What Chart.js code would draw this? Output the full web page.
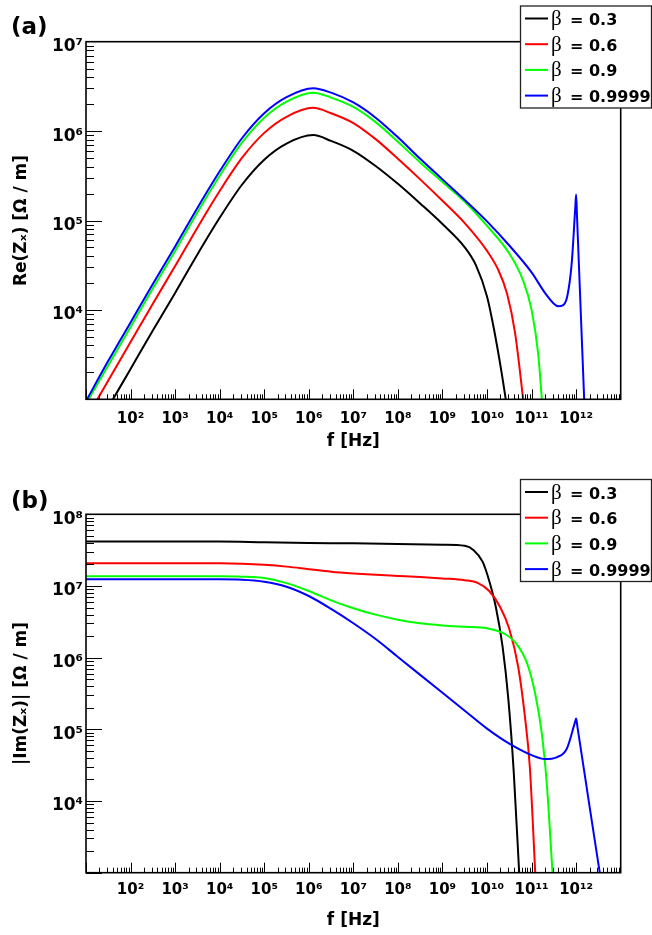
<!DOCTYPE html>
<html>
<head>
<meta charset="utf-8">
<script src="https://cdn.jsdelivr.net/npm/chart.js@4.4.0/dist/chart.umd.min.js"></script>
<style>
  html, body { margin: 0; padding: 0; background: #fff; }
  canvas { display: block; }
</style>
</head>
<body>
<canvas id="reChart" width="652" height="467"></canvas>
<canvas id="imChart" width="652" height="468"></canvas>
<script>
// legend entries, one per curve
const betaLabels = ['β = 0.3', 'β = 0.6', 'β = 0.9', 'β = 0.9999'];

// tick labels (powers of ten that carry a label)
const xTickExps = [2, 3, 4, 5, 6, 7, 8, 9, 10, 11, 12];
const reTickExps = [4, 5, 6, 7];
const imTickExps = [4, 5, 6, 7, 8];

// (a) Re(Zx) -- log10(f / Hz) and log10(Re Zx / (Ohm/m))
const reLogF_03 = [1, 1.5, 2, 2.5, 3, 3.5, 4, 4.5, 5, 5.5, 6.1, 6.5, 7, 7.5, 8, 8.5, 9, 9.5, 9.75, 10, 10.15, 10.33, 10.45];
const reLogZ_03 = [2.48, 2.91, 3.34, 3.77, 4.19, 4.62, 5.03, 5.40, 5.68, 5.86, 5.955, 5.89, 5.78, 5.61, 5.41, 5.19, 4.96, 4.70, 4.50, 4.15, 3.80, 3.29, 2.90];
const reLogF_06 = [1, 1.5, 2, 2.5, 3, 3.5, 4, 4.5, 5, 5.5, 6.1, 6.5, 7, 7.5, 8, 8.5, 9, 9.5, 10, 10.25, 10.45, 10.63, 10.83];
const reLogZ_06 = [2.78, 3.21, 3.64, 4.07, 4.49, 4.92, 5.33, 5.70, 5.98, 6.16, 6.26, 6.20, 6.09, 5.91, 5.69, 5.46, 5.22, 4.97, 4.66, 4.45, 4.18, 3.74, 2.92];
const reLogF_09 = [1, 1.5, 2, 2.5, 3, 3.5, 4, 4.5, 5, 5.5, 6.1, 6.5, 7, 7.5, 8, 8.5, 9, 9.5, 10, 10.5, 10.8, 11.0, 11.15, 11.25];
const reLogZ_09 = [2.95, 3.38, 3.81, 4.24, 4.66, 5.09, 5.50, 5.87, 6.15, 6.33, 6.43, 6.375, 6.27, 6.10, 5.88, 5.65, 5.43, 5.21, 4.94, 4.63, 4.34, 4.0, 3.5, 2.87];
const reLogF_9999 = [1, 1.5, 2, 2.5, 3, 3.5, 4, 4.5, 5, 5.5, 6.1, 6.5, 7, 7.5, 8, 8.5, 9, 9.5, 10, 10.5, 11, 11.3, 11.5, 11.6, 11.7, 11.8, 11.9, 11.98, 12.0, 12.02, 12.2];
const reLogZ_9999 = [2.98, 3.43, 3.86, 4.29, 4.71, 5.14, 5.55, 5.92, 6.2, 6.38, 6.48, 6.43, 6.32, 6.15, 5.93, 5.69, 5.46, 5.23, 4.99, 4.72, 4.42, 4.19, 4.07, 4.04, 4.05, 4.15, 4.52, 5.14, 5.29, 5.04, 2.75];

// (b) |Im(Zx)| -- same units
const imLogF_03 = [1, 2, 3, 4, 5, 6, 7, 8, 9, 9.5, 9.7, 9.9, 10.05, 10.2, 10.35, 10.48, 10.6, 10.73];
const imLogZ_03 = [7.62, 7.62, 7.62, 7.62, 7.61, 7.60, 7.595, 7.585, 7.575, 7.56, 7.50, 7.34, 7.07, 6.70, 6.15, 5.41, 4.40, 2.9];
const imLogF_06 = [1, 2, 3, 4, 4.5, 5, 5.5, 6, 6.5, 7, 7.5, 8, 8.5, 9, 9.5, 9.8, 10.05, 10.3, 10.5, 10.7, 10.85, 10.96, 11.09];
const imLogZ_06 = [7.316, 7.316, 7.316, 7.316, 7.31, 7.295, 7.27, 7.235, 7.20, 7.175, 7.155, 7.14, 7.125, 7.105, 7.08, 7.04, 6.93, 6.70, 6.40, 5.87, 5.18, 4.48, 2.9];
const imLogF_09 = [1, 2, 3, 4, 4.5, 5, 5.5, 6, 6.5, 7, 7.5, 8, 8.5, 9, 9.5, 10, 10.4, 10.65, 10.9, 11.08, 11.23, 11.34, 11.48];
const imLogZ_09 = [7.135, 7.135, 7.135, 7.135, 7.13, 7.11, 7.04, 6.93, 6.80, 6.69, 6.60, 6.53, 6.48, 6.45, 6.43, 6.41, 6.33, 6.2, 5.92, 5.5, 4.94, 4.25, 2.9];
const imLogF_9999 = [1, 2, 3, 4, 4.5, 5, 5.5, 6, 6.5, 7, 7.5, 8, 8.5, 9, 9.5, 10, 10.5, 11, 11.3, 11.56, 11.79, 11.97, 12.0, 12.03, 12.3, 12.55];
const imLogZ_9999 = [7.093, 7.093, 7.093, 7.093, 7.088, 7.06, 6.99, 6.86, 6.68, 6.48, 6.26, 6.01, 5.76, 5.51, 5.26, 5.01, 4.80, 4.64, 4.585, 4.61, 4.73, 5.09, 5.15, 5.03, 3.93, 2.92];

const SUP = {'0': '⁰', '1': '¹', '2': '²', '3': '³', '4': '⁴', '5': '⁵', '6': '⁶', '7': '⁷', '8': '⁸', '9': '⁹'};
function powLabel(v) {
    const e = Math.round(Math.log10(v));
    return '10' + String(e).split('').map(c => SUP[c]).join('');
}

function toPoints(logF, logZ) {
    return logF.map((lf, i) => ({x: Math.pow(10, lf), y: Math.pow(10, logZ[i])}));
}

const colors = ['#000000', '#ff0000', '#00ff00', '#0000ff'];
const SANS = '"DejaVu Sans", sans-serif';

// ROOT-like decorations: inward ticks, frame, boxed legend, panel letter
const rootStyle = {
    id: 'rootStyle',
    afterDatasetsDraw(chart, args, opts) {
        const {ctx, chartArea: a, scales: {x, y}} = chart;
        ctx.save();
        ctx.strokeStyle = '#000';
        ctx.lineWidth = 1;
        for (let d = Math.floor(Math.log10(x.min)); d < Math.log10(x.max); d++) {
            for (let k = 1; k < 10; k++) {
                const px = Math.round(x.getPixelForValue(k * Math.pow(10, d))) + 0.5;
                const len = k === 1 ? 10 : 5;
                ctx.beginPath();
                ctx.moveTo(px, a.bottom);
                ctx.lineTo(px, a.bottom - len);
                ctx.stroke();
            }
        }
        for (let d = Math.floor(Math.log10(y.min)); d < Math.log10(y.max); d++) {
            for (let k = 1; k < 10; k++) {
                const py = Math.round(y.getPixelForValue(k * Math.pow(10, d))) + 0.5;
                const len = k === 1 ? 16 : 8;
                ctx.beginPath();
                ctx.moveTo(a.left, py);
                ctx.lineTo(a.left + len, py);
                ctx.stroke();
            }
        }
        // frame
        ctx.lineWidth = 1.6;
        ctx.strokeRect(a.left, a.top, a.right - a.left, a.bottom - a.top);

        // legend box
        const lx = 520.5, ly = opts.legendY, lw = 131, lh = 102;
        ctx.fillStyle = '#fff';
        ctx.fillRect(lx, ly, lw, lh);
        ctx.lineWidth = 1.3;
        ctx.strokeStyle = '#222';
        ctx.strokeRect(lx, ly, lw, lh);
        chart.data.datasets.forEach((ds, i) => {
            const ry = ly + 12.5 + i * 25.7;
            ctx.strokeStyle = ds.borderColor;
            ctx.lineWidth = 2;
            ctx.beginPath();
            ctx.moveTo(525, ry);
            ctx.lineTo(548, ry);
            ctx.stroke();
            ctx.fillStyle = '#000';
            ctx.textBaseline = 'alphabetic';
            ctx.textAlign = 'left';
            ctx.font = '21px "Liberation Serif", serif';
            ctx.fillText(ds.label.charAt(0), 551, ry + 6.5);
            ctx.font = 'bold 16px ' + SANS;
            ctx.fillText(ds.label.slice(1).trim(), 570, ry + 6.5);
        });

        // panel letter
        ctx.fillStyle = '#000';
        ctx.font = 'bold 23px ' + SANS;
        ctx.fillText(opts.panel, 11, opts.panelY);
        ctx.restore();
    }
};

function makePanel(id, series, yMin, yMax, yTickExps, yTitle, lay) {
    const datasets = series.map((s, i) => ({
        label: betaLabels[i],
        data: toPoints(s[0], s[1]),
        borderColor: colors[i],
        borderWidth: 2,
        pointRadius: 0,
        fill: false,
        cubicInterpolationMode: 'monotone',
        order: series.length - i
    }));
    return new Chart(document.getElementById(id).getContext('2d'), {
        type: 'line',
        data: {datasets: datasets},
        options: {
            responsive: false,
            animation: false,
            layout: {padding: {left: 0, right: 31.3, top: lay.top, bottom: 0}},
            plugins: {
                legend: {display: false},
                tooltip: {enabled: false},
                rootStyle: {panel: lay.panel, panelY: lay.panelY, legendY: lay.legendY}
            },
            scales: {
                x: {
                    type: 'logarithmic',
                    min: 1e1,
                    max: 1e13,
                    afterBuildTicks: s => { s.ticks = xTickExps.map(e => ({value: Math.pow(10, e)})); },
                    afterFit: s => { s.height = lay.xHeight; },
                    grid: {display: false, drawTicks: false},
                    border: {display: false},
                    ticks: {
                        autoSkip: false, maxRotation: 0, padding: lay.xTickPad, color: '#000',
                        font: {family: SANS, weight: 'bold', size: 15},
                        callback: v => powLabel(v)
                    },
                    title: {
                        display: true, text: 'f [Hz]', color: '#000',
                        font: {family: SANS, weight: 'bold', size: 17},
                        padding: {top: 0, bottom: lay.xTitlePad}
                    }
                },
                y: {
                    type: 'logarithmic',
                    min: yMin,
                    max: yMax,
                    afterBuildTicks: s => { s.ticks = yTickExps.map(e => ({value: Math.pow(10, e)})); },
                    afterFit: s => { s.width = 86; },
                    grid: {display: false, drawTicks: false},
                    border: {display: false},
                    ticks: {
                        autoSkip: false, padding: 3, labelOffset: 5, color: '#000',
                        font: {family: SANS, weight: 'bold', size: 17},
                        callback: v => powLabel(v)
                    },
                    title: {
                        display: true, text: yTitle, color: '#000',
                        font: {family: SANS, weight: 'bold', size: 17},
                        padding: {top: 11, bottom: 0}
                    }
                }
            }
        },
        plugins: [rootStyle]
    });
}

makePanel('reChart',
    [[reLogF_03, reLogZ_03], [reLogF_06, reLogZ_06], [reLogF_09, reLogZ_09], [reLogF_9999, reLogZ_9999]],
    1e3, 1e7, reTickExps, 'Re(Zₓ) [Ω / m]',
    {top: 41.7, xHeight: 67.7, xTickPad: 11, xTitlePad: 15, panel: '(a)', panelY: 34, legendY: 6});

makePanel('imChart',
    [[imLogF_03, imLogZ_03], [imLogF_06, imLogZ_06], [imLogF_09, imLogZ_09], [imLogF_9999, imLogZ_9999]],
    1e3, 1e8, imTickExps, '|Im(Zₓ)| [Ω / m]',
    {top: 47.3, xHeight: 62.3, xTickPad: 8, xTitlePad: 4, panel: '(b)', panelY: 40.7, legendY: 12.5});
</script>
</body>
</html>
